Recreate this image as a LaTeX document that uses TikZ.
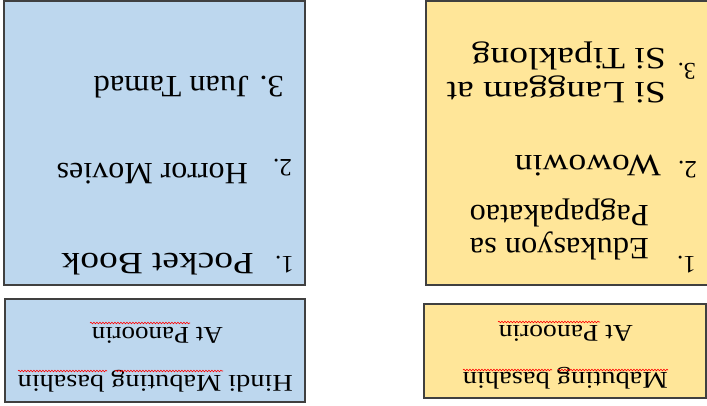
\documentclass[tikz,border=0pt]{standalone}
\usepackage{fontspec}
\setmainfont{Liberation Serif}
\usetikzlibrary{decorations.pathmorphing}
\definecolor{bluefill}{HTML}{BDD7EE}
\definecolor{yelfill}{HTML}{FFE699}
\definecolor{edgegray}{HTML}{404040}
\newcommand{\fw}[3]{\resizebox{#1pt}{\height}{\fontsize{#2pt}{#2pt}\selectfont #3}}
\newcommand{\fsz}[2]{{\fontsize{#1pt}{#1pt}\selectfont #2}}
\begin{document}
\begin{tikzpicture}[x=1pt,y=-1pt,
  box/.style={draw=edgegray,line width=1.3pt},
  txt/.style={rotate=180,anchor=base west,inner sep=0pt,text=black},
  squig/.style={red,line width=0.6pt,decorate,decoration={snake,segment length=3pt,amplitude=0.8pt}}]
\useasboundingbox (0,0) rectangle (707,405);
\clip (0,0) rectangle (707,405);
% boxes
\draw[box,fill=bluefill] (4,1) rectangle (305,285);
\draw[box,fill=yelfill] (426,1) rectangle (720,285);
\draw[box,fill=bluefill] (5,299) rectangle (305,402);
\draw[box,fill=yelfill] (424,304) rectangle (706,398);
% blue big texts
\node[txt] (bn1) at (294,256) {\fsz{25}{1.}};
\node[txt] (bt1) at (254,253) {\fw{192}{31}{Pocket Book}};
\node[txt] (bn2) at (292,159) {\fsz{25}{2.}};
\node[txt] (bt2) at (248,163) {\fw{191}{31}{Horror Movies}};
\node[txt] (bt3) at (284,76) {\fw{190}{31}{3. Juan Tamad}};
% yellow big texts
\node[txt] (yn1) at (696,256) {\fsz{25}{1.}};
\node[txt] (yt1a) at (649,238) {\fw{179}{31}{Edukasyon sa}};
\node[txt] (yt1b) at (649,205) {\fw{179}{31}{Pagpapakatao}};
\node[txt] (yn2) at (697,161) {\fsz{25}{2.}};
\node[txt] (yt2) at (661,155) {\fw{146}{31}{Wowowin}};
\node[txt] (yn3) at (696,63) {\fsz{24}{3.}};
\node[txt] (yt3a) at (666,82) {\fw{219}{31}{Si Langgam at}};
\node[txt] (yt3b) at (666,48) {\fw{194}{31}{Si Tipaklong}};
% small boxes
\node[txt] (bs1) at (293,375) {\fw{275}{24}{Hindi Mabuting basahin}};
\node[txt] (bs2) at (223,327) {\fw{131}{24}{At Panoorin}};
\node[txt] (ys1) at (668,372) {\fw{205}{24}{Mabuting basahin}};
\node[txt] (ys2) at (633,325) {\fw{134}{24}{At Panoorin}};
% spell-check squiggles
\draw[squig] (90,323) -- (190,323);
\draw[squig] (18,371) -- (107,371);
\draw[squig] (115,371) -- (223,371);
\draw[squig] (498,322) -- (600,322);
\draw[squig] (463,370) -- (552,370);
\draw[squig] (558,370) -- (668,370);
\end{tikzpicture}
\end{document}
